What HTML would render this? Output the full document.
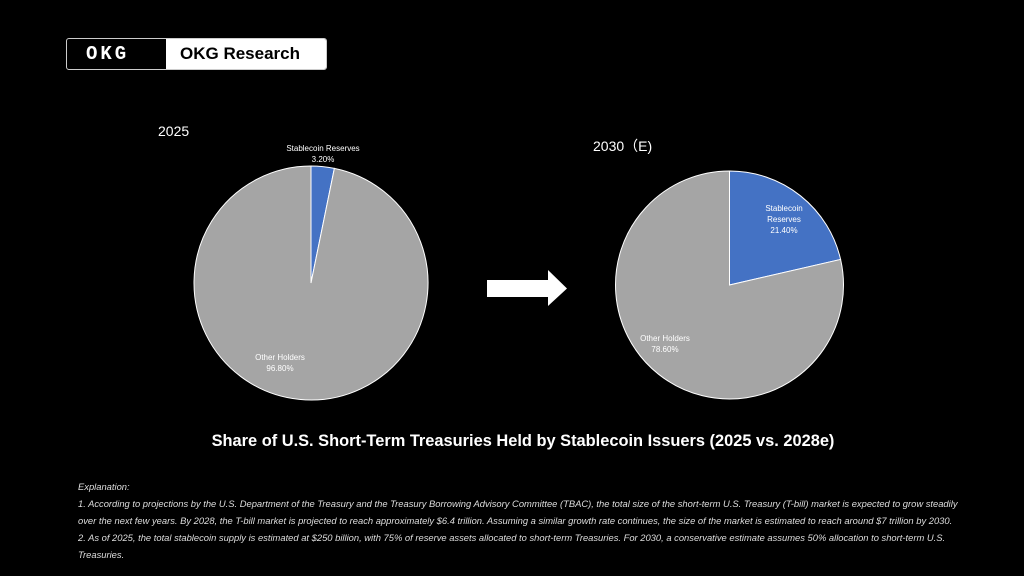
<!DOCTYPE html>
<html><head><meta charset="utf-8"><style>
body{margin:0;background:#000;width:1024px;height:576px;overflow:hidden;font-family:"Liberation Sans",sans-serif}
#c{position:absolute;left:0;top:0}
.exp{position:absolute;left:78px;top:478px;width:940px;color:#ddd;font-style:italic;font-size:9.4px;line-height:17px;white-space:nowrap}
</style></head><body>
<div style="position:absolute;left:66px;top:38px;width:259px;height:30px;border:1px solid #ccc;border-radius:3px;background:#000">
 <div style="position:absolute;left:99px;top:0;width:160px;height:30px;background:#fff;border-radius:0 2px 2px 0"></div>
 <div style="position:absolute;left:19px;top:7px;color:#fff;font:900 19px 'Liberation Mono',monospace;letter-spacing:3px;line-height:17px">OKG</div>
 <div style="position:absolute;left:113px;top:5px;color:#000;font:bold 17px 'Liberation Sans',sans-serif">OKG Research</div>
</div>
<svg id="c" width="1024" height="576">
 <text x="158" y="136" fill="#fff" font-size="14">2025</text>
 <text x="593" y="151" fill="#fff" font-size="14">2030（E)</text>
 <polygon points="487,280 548,280 548,270 567,288.5 548,306 548,297 487,297" fill="#fff"/>
 <text x="523" y="446" fill="#fff" font-size="16.4" font-weight="bold" text-anchor="middle">Share of U.S. Short-Term Treasuries Held by Stablecoin Issuers (2025 vs. 2028e)</text>
 <g id="pies"></g>
</svg>
<div class="exp">Explanation:<br>1. According to projections by the U.S. Department of the Treasury and the Treasury Borrowing Advisory Committee (TBAC), the total size of the short-term U.S. Treasury (T-bill) market is expected to grow steadily<br>over the next few years. By 2028, the T-bill market is projected to reach approximately $6.4 trillion. Assuming a similar growth rate continues, the size of the market is estimated to reach around $7 trillion by 2030.<br>2. As of 2025, the total stablecoin supply is estimated at $250 billion, with 75% of reserve assets allocated to short-term Treasuries. For 2030, a conservative estimate assumes 50% allocation to short-term U.S.<br>Treasuries.</div>
<script>
const categories=["Stablecoin Reserves","Other Holders"];
const values2025=[3.2,96.8];
const values2030=[21.4,78.6];
const colors=["#4472C4","#A5A5A5"];
const ns="http://www.w3.org/2000/svg";
const g=document.getElementById('pies');
function pie(vals,cx,cy,r,name,labelPos){
  const tot=vals.reduce((a,b)=>a+b,0);let a0=0;
  vals.forEach((v,i)=>{
    const a1=a0+v/tot*2*Math.PI;
    const p=t=>[cx+r*Math.sin(t),cy-r*Math.cos(t)];
    const [x0,y0]=p(a0),[x1,y1]=p(a1);
    const path=document.createElementNS(ns,'path');
    path.setAttribute('d',`M${cx},${cy}L${x0},${y0}A${r},${r} 0 ${a1-a0>Math.PI?1:0} 1 ${x1},${y1}Z`);
    path.setAttribute('fill',colors[i]);path.setAttribute('stroke','#fff');path.setAttribute('stroke-width','1');
    
    
    g.appendChild(path);
    const lp=labelPos[i];
    const lines=lp[2]?lp[2]:[categories[i]];
    lines.concat([vals[i].toFixed(2)+'%']).forEach((s,k)=>{
      const t=document.createElementNS(ns,'text');
      t.setAttribute('x',lp[0]);t.setAttribute('y',lp[1]+k*11);
      t.setAttribute('fill','#fff');t.setAttribute('font-size','8');t.setAttribute('text-anchor','middle');
      t.textContent=s;
      
      
      g.appendChild(t);
    });
    a0=a1;
  });
}
pie(values2025,311,283,117,'pie-2025',[[323,151],[280,360]]);
pie(values2030,729.5,285,114,'pie-2030',[[784,211,["Stablecoin","Reserves"]],[665,341]]);
</script>
</body></html>
